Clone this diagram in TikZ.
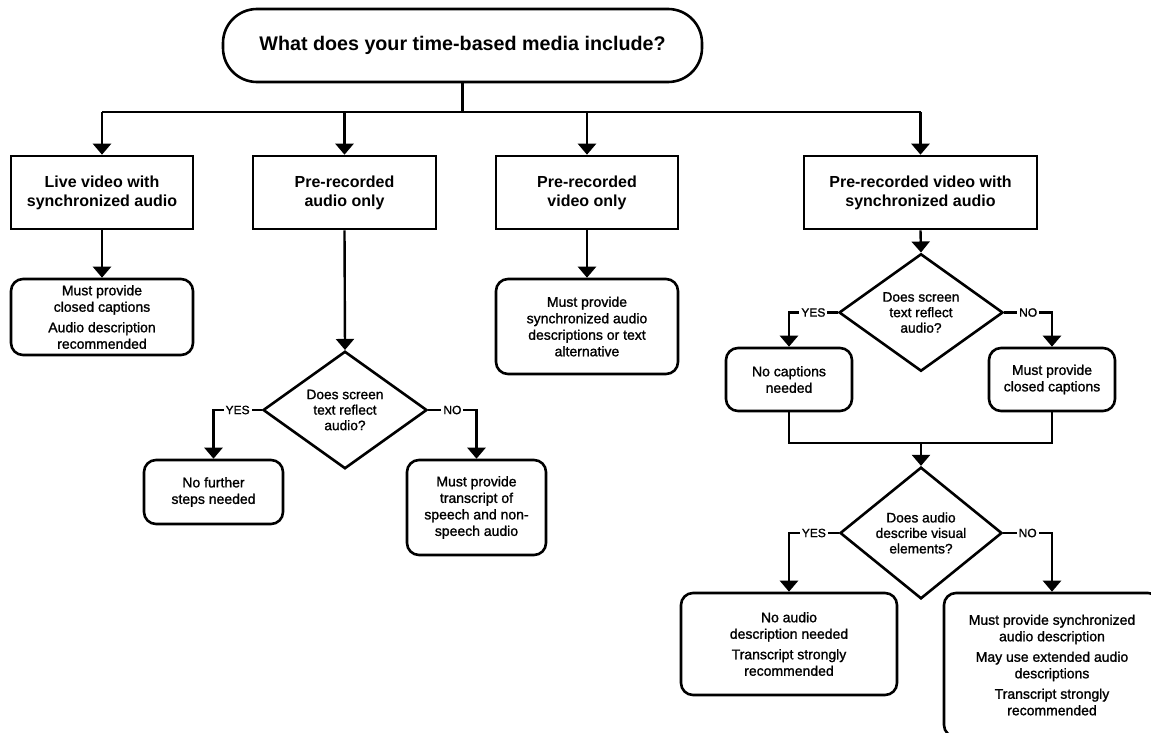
\documentclass[tikz,border=0pt]{standalone}
\usepackage{fontspec}
\setmainfont{Liberation Sans}
\newfontfamily\medfont[FakeBold=1.3]{Liberation Sans}
\usetikzlibrary{shapes.geometric,arrows.meta}
\begin{document}
\begin{tikzpicture}[x=1pt,y=-1pt,
  conn/.style={line width=2.4pt,line join=miter},
  arr/.style={conn,-{Triangle[width=18pt,length=11pt]}},
  hdr/.style={draw,line width=2.6pt,rectangle,align=center,inner sep=2pt,
    font=\bfseries\fontsize{16}{19}\selectfont,minimum height=73pt},
  res/.style={draw,line width=2.6pt,rectangle,rounded corners=12pt,align=center,inner sep=2pt,
    font=\medfont\fontsize{14}{16.5}\selectfont},
  dec/.style={draw,line width=2.6pt,diamond,align=center,inner sep=0pt,
    font=\medfont\fontsize{13.7}{15.5}\selectfont,minimum width=164pt,minimum height=106pt},
  lbl/.style={fill=white,inner sep=2pt,font=\medfont\fontsize{12}{12}\selectfont}]
\useasboundingbox (0,0) rectangle (1151,733);
\clip (0,0) rectangle (1151,733);

\node[draw,line width=2.6pt,rounded corners=34pt,minimum width=479pt,minimum height=73pt,
  font=\bfseries\fontsize{19.7}{22}\selectfont] (title) at (462.5,45.5) {What does your time-based media include?};

\node[hdr,minimum width=182pt] (b1) at (102,192.5) {Live video with\\synchronized audio};
\node[hdr,minimum width=183pt] (b2) at (344.5,192.5) {Pre-recorded\\audio only};
\node[hdr,minimum width=182pt] (b3) at (587,192.5) {Pre-recorded\\video only};
\node[hdr,minimum width=233pt] (b4) at (920.5,192.5) {Pre-recorded video with\\synchronized audio};

\coordinate (bus) at (0,112);
\draw[conn] (title.south) -- (title.south |- bus);
\draw[conn] (b1.north |- bus) -- (b4.north |- bus);
\foreach \b in {b1,b2,b3,b4} \draw[arr] (\b.north |- bus) -- (\b.north);

\node[res,minimum width=182pt,minimum height=76pt] (r1) at (102,317)
  {Must provide\\closed captions\\[4pt]Audio description\\recommended};
\node[res,minimum width=182pt,minimum height=95pt] (r3) at (587,326.5)
  {Must provide\\synchronized audio\\descriptions or text\\alternative};
\draw[arr] (b1.south) -- (r1.north);
\draw[arr] (b3.south) -- (r3.north);

% audio only branch
\node[dec] (d1) at (345,410) {Does screen\\text reflect\\audio?};
\draw[arr] (b2.south) -- (d1.north);
\node[res,minimum width=139pt,minimum height=64pt] (r2) at (213.5,492) {No further\\steps needed};
\node[res,minimum width=139pt,minimum height=95pt] (r4) at (476.5,507.5)
  {Must provide\\transcript of\\speech and non-\\speech audio};
\draw[arr] (d1.west) -- node[lbl]{YES} (d1.west -| r2.north) -- (r2.north);
\draw[arr] (d1.east) -- node[lbl]{NO} (d1.east -| r4.north) -- (r4.north);

% video with audio branch
\node[dec] (d2) at (921,312.5) {Does screen\\text reflect\\audio?};
\draw[arr] (b4.south) -- (d2.north);
\node[res,minimum width=126pt,minimum height=63pt] (r5) at (789,379.5) {No captions\\needed};
\node[res,minimum width=126pt,minimum height=63pt] (r6) at (1052,379.5) {Must provide\\closed captions};
\draw[arr] (d2.west) -- node[lbl]{YES} (d2.west -| r5.north) -- (r5.north);
\draw[arr] (d2.east) -- node[lbl]{NO} (d2.east -| r6.north) -- (r6.north);

\coordinate (m) at (921,443);
\draw[conn] (r5.south) |- (m) -| (r6.south);
\node[dec,minimum width=162pt] (d3) at (921,533) {Does audio\\describe visual\\elements?};
\draw[arr] (m) -- (d3.north);

\node[res,minimum width=216pt,minimum height=102pt] (r7) at (789,644)
  {No audio\\description needed\\[4pt]Transcript strongly\\recommended};
\node[res,minimum width=216pt,minimum height=144pt] (r8) at (1052,665)
  {Must provide synchronized\\audio description\\[4pt]May use extended audio\\descriptions\\[4pt]Transcript strongly\\recommended};
\draw[arr] (d3.west) -- node[lbl]{YES} (d3.west -| r7.north) -- (r7.north);
\draw[arr] (d3.east) -- node[lbl]{NO} (d3.east -| r8.north) -- (r8.north);
\end{tikzpicture}
\end{document}
